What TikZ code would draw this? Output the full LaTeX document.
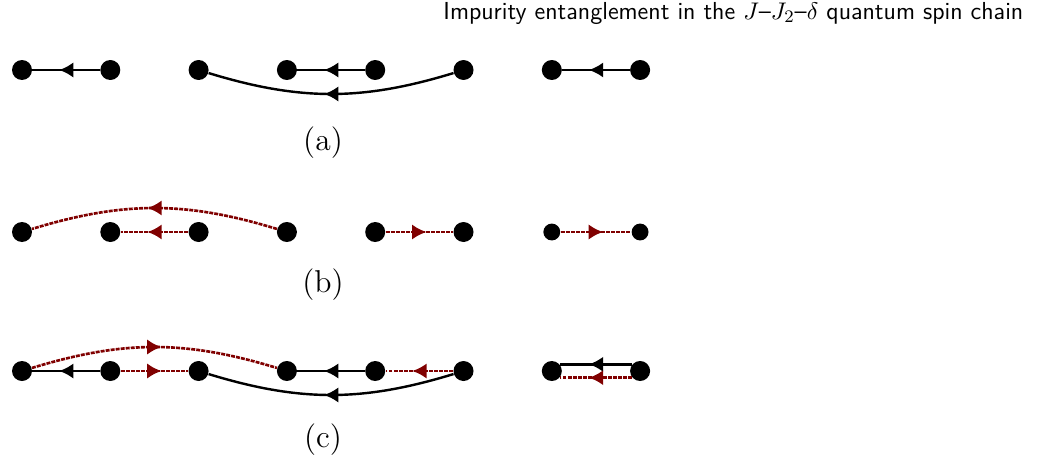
\documentclass[tikz,border=0pt]{standalone}
\usepackage{amsmath,amssymb}
\usepackage{xcolor}
\usepackage{tikz}
\usetikzlibrary{arrows.meta,decorations.markings}

\definecolor{bondred}{rgb}{0.5,0,0}
\tikzset{
  spin/.style={circle,fill=black,inner sep=0pt,minimum size=0.32cm},
  spinsmall/.style={circle,fill=black,inner sep=0pt,minimum size=0.27cm},
  midarrow/.style={postaction={decorate},decoration={markings,
      mark=at position 0.5 with {\arrow[xshift=3.2pt]{Latex[length=6.5pt,width=7pt]}}}},
  singlet/.style={line width=1.1pt,black,midarrow},
  triplet/.style={line width=1.2pt,bondred,dash pattern=on 1.8pt off .5pt,midarrow}
}

\begin{document}
\begin{tikzpicture}[x=0.016cm,y=-0.016cm]
      \useasboundingbox (0,0) rectangle (1041,466);
      \node[font=\fontsize{11.2}{13}\sffamily,anchor=base east] (title) at (1031,19)
        {Impurity entanglement in the $J$--$J_2$--$\delta$ quantum spin chain};
      % three rows of spins
      \foreach \i in {1,...,8} {
        \node[spin] (a\i) at ({22+88.3*(\i-1)},70) {};
        \node[spin] (c\i) at ({22+88.3*(\i-1)},371) {};
      }
      \foreach \i in {1,...,6}
        \node[spin] (b\i) at ({22+88.3*(\i-1)},232) {};
      \foreach \i in {7,8}
        \node[spinsmall] (b\i) at ({22+88.3*(\i-1)},232) {};
      % (a)
      \draw[singlet] (a2) -- (a1);
      \draw[singlet] (a5) -- (a4);
      \draw[singlet] (a8) -- (a7);
      \draw[singlet] (a6) to[bend left=17] (a3);
      \node[font=\Large] (la) at (323,143) {(a)};
      % (b)
      \draw[triplet] (b3) -- (b2);
      \draw[triplet] (b5) -- (b6);
      \draw[triplet] (b7) -- (b8);
      \draw[triplet] (b4) to[bend right=17] (b1);
      \node[font=\Large] (lb) at (323,285) {(b)};
      % (c)
      \draw[singlet] (c2) -- (c1);
      \draw[triplet] (c2) -- (c3);
      \draw[singlet] (c5) -- (c4);
      \draw[triplet] (c6) -- (c5);
      \draw[triplet] (c1) to[bend left=17] (c4);
      \draw[singlet] (c6) to[bend left=17] (c3);
      \draw[singlet] (c8.140) -- (c7.40);
      \draw[triplet] (c8.220) -- (c7.320);
      \node[font=\Large] (lc) at (323,440) {(c)};
\end{tikzpicture}
\end{document}
